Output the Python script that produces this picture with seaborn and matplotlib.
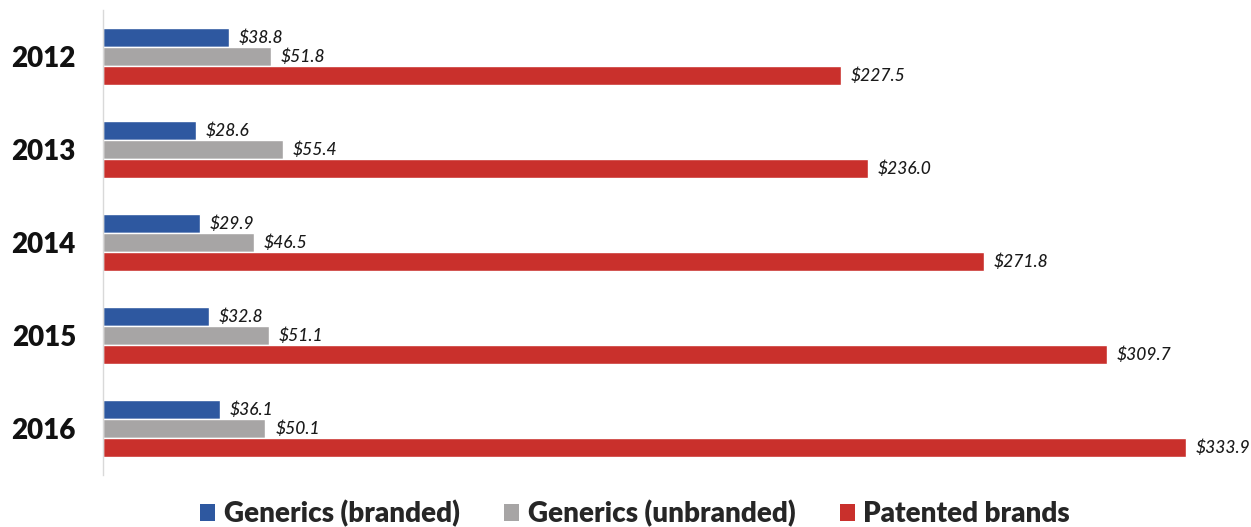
import matplotlib
matplotlib.use("Agg")
import matplotlib.pyplot as plt
import seaborn as sns
import pandas as pd
from matplotlib.patches import Patch

years = ["2012", "2013", "2014", "2015", "2016"]
series = ["Generics (branded)", "Generics (unbranded)", "Patented brands"]
generics_branded = [38.8, 28.6, 29.9, 32.8, 36.1]
generics_unbranded = [51.8, 55.4, 46.5, 51.1, 50.1]
patented_brands = [227.5, 236.0, 271.8, 309.7, 333.9]
colors = ["#2E58A0", "#A7A5A5", "#C9302C"]

rows = []
for name, vals in zip(series, [generics_branded, generics_unbranded, patented_brands]):
    for y, v in zip(years, vals):
        rows.append({"year": y, "series": name, "value": v})
df = pd.DataFrame(rows)

sns.set_style("white")
plt.rcParams["font.family"] = ["Lato", "DejaVu Sans"]

fig = plt.figure(figsize=(12.51, 5.27), dpi=100)
ax = fig.add_axes([103 / 1251, 1 - 475 / 527, 1 - 103 / 1251, 465 / 527])

sns.barplot(data=df, y="year", x="value", hue="series", order=years,
            hue_order=series, palette=colors, orient="h", width=0.615,
            saturation=1, ax=ax, legend=False)

for cont in ax.containers:
    ax.bar_label(cont, labels=[f"${b.get_width():.1f}" for b in cont],
                 padding=7, fontsize=12.5, fontstyle="italic",
                 fontweight="medium", color="#1a1a1a")

ax.set_xlim(0, 354)
ax.set_ylim(4.5, -0.5)
ax.set_xlabel("")
ax.set_ylabel("")
ax.set_xticks([])
for s in ["top", "right", "bottom"]:
    ax.spines[s].set_visible(False)
ax.spines["left"].set_color("#d9d9d9")
ax.spines["left"].set_linewidth(1)
ax.tick_params(axis="y", length=0, pad=19.5)
for lbl in ax.get_yticklabels():
    lbl.set_fontsize(20)
    lbl.set_fontweight("heavy")
    lbl.set_color("#111111")

handles = [Patch(facecolor=c, edgecolor="none") for c in colors]
fig.legend(handles, series, loc="center", bbox_to_anchor=(0.5076, 13.5 / 527),
           ncol=3, frameon=False, handlelength=0.55, handleheight=0.55,
           handletextpad=0.3, columnspacing=1.6,
           prop={"size": 20, "weight": "heavy"})

fig.savefig("out.png", dpi=100)
